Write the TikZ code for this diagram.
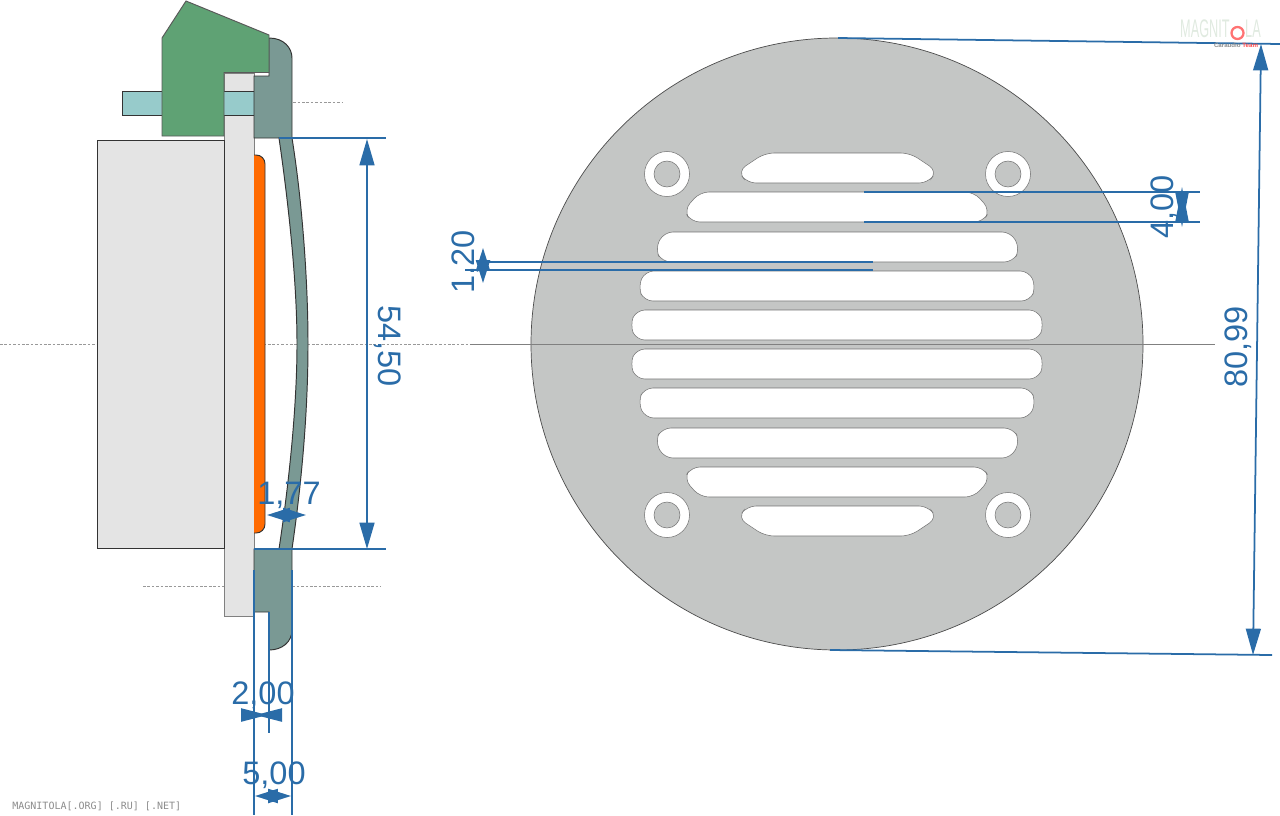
\documentclass[tikz,border=0pt]{standalone}
\usepackage{fontspec}
\setmainfont{Liberation Sans}
\setmonofont{DejaVu Sans Mono}
\usetikzlibrary{arrows.meta}
\definecolor{dimblue}{HTML}{2A6CA8}
\definecolor{flange}{HTML}{7A9994}
\definecolor{terminal}{HTML}{5FA274}
\definecolor{pincol}{HTML}{97CBCB}
\definecolor{platecol}{HTML}{E4E4E4}
\definecolor{gridcol}{HTML}{C4C6C5}
\definecolor{padcol}{HTML}{FF6A00}
\tikzset{
  part/.style     = {draw=black!80, line width=0.55pt},
  slot/.style     = {draw=black!55, line width=0.3pt, fill=white, rounded corners=5pt},
  axis/.style     = {draw=black!40, line width=0.3pt, dash pattern=on 1.5pt off 1pt},
  dimline/.style  = {draw=dimblue, line width=1pt},
  inward/.style   = {dimline, {Triangle[reversed,length=#1,width=7.5pt]}-{Triangle[reversed,length=#1,width=7.5pt]}},
  outward/.style  = {dimline, {Triangle[length=13pt,width=8pt]}-{Triangle[length=13pt,width=8pt]}},
  longdim/.style  = {dimline, {Triangle[length=15pt,width=8.5pt]}-{Triangle[length=15pt,width=8.5pt]}},
  dimtext/.style  = {text=dimblue, font=\fontsize{18.5}{19}\selectfont, inner sep=0pt}
}
\begin{document}
\begin{tikzpicture}[x=0.02cm,y=-0.02cm]
  \useasboundingbox (0,0) rectangle (1280,815);
  % side view
  \draw[axis] (223,102.5) -- (343,102.5);
  \draw[axis] (143,586) -- (381,586);
  \draw[axis] (0,344) -- (570,344);
  \draw[draw=black!50, line width=0.4pt, fill=platecol] (224,73) rectangle (254,616);
  \draw[part, fill=pincol, line width=0.4pt] (122,91.5) rectangle (254,115.5);
  \draw[part, fill=platecol] (97,140) rectangle (224,548);
  \draw[part, fill=padcol, rounded corners=5pt] (254,155) -- (265,155) -- (265,533) -- (254,533);
  \draw[part, fill=flange] (254,76) -- (269,76) -- (269,38) .. controls (284,38) and (292,48) .. (292,58)
    -- (292,138) -- (254,138) -- cycle;
  \draw[part, fill=flange] (279,138) .. controls (288,200) and (297,280) .. (297,344)
    .. controls (297,410) and (288,490) .. (279,549) -- (292,549)
    .. controls (302,480) and (308,410) .. (308,344) .. controls (308,280) and (302,200) .. (292,138) -- cycle;
  \draw[part, fill=flange] (254,549) -- (292,549) -- (292,630) .. controls (292,642) and (282,650) .. (269,650)
    -- (269,612) -- (254,612) -- cycle;
  \draw[part, fill=terminal, draw=black!65] (186,1) -- (269,35) -- (269,72.5) -- (224,72.5) -- (224,136)
    -- (162,136) -- (162,38) -- cycle;
  % front view
  \draw[draw=black!70, line width=0.4pt, fill=gridcol] (837,344) circle [radius=306];
  \foreach \xa/\xb/\ya/\ta/\ba/\ym in {738/937/153/27/9/18, 684/990/192/16/7/18, 655/1020/232/9/7/17, 638/1036/271/7/6/16, 630/1044/310/6/6/15,
    630/1044/349/6/6/15, 638/1036/388/6/7/14, 655/1020/428/7/9/13, 684/990/467/7/16/12, 738/937/506/9/27/12}
    \draw[slot] (\xa+\ta,\ya) -- (\xb-\ta,\ya) -- (\xb,\ya+\ym) -- (\xb-\ba,\ya+30) -- (\xa+\ba,\ya+30) -- (\xa,\ya+\ym) -- cycle;
  \foreach \cx/\cy in {667/174, 1008/174, 667/515, 1008/515} {
    \draw[draw=black!55, line width=0.3pt, fill=white] (\cx,\cy) circle [radius=22.5];
    \draw[draw=black!55, line width=0.3pt, fill=gridcol] (\cx,\cy) circle [radius=13];
  }
  \draw[draw=black!50, line width=0.3pt] (470,344) -- (1215,344);
  % anchors of the dimensions
  \coordinate (h1a) at (279,138);  \coordinate (h1b) at (386,138);
  \coordinate (h2a) at (254,549);  \coordinate (h2b) at (386,549);
  \coordinate (d1a) at (367,139);  \coordinate (d1b) at (367,549);
  \coordinate (t1a) at (838,38);   \coordinate (t1b) at (1280,44);
  \coordinate (t2a) at (830,650);  \coordinate (t2b) at (1272,655);
  \coordinate (d2a) at (1261,44);  \coordinate (d2b) at (1253,655);
  \coordinate (s1a) at (864,192);  \coordinate (s1b) at (1200,192);
  \coordinate (s2a) at (864,222);  \coordinate (s2b) at (1200,222);
  \coordinate (d3a) at (1182,192); \coordinate (d3b) at (1182,222);
  \coordinate (b1a) at (480,262);  \coordinate (b1b) at (873,262);
  \coordinate (b2a) at (465,270);  \coordinate (b2b) at (873,270);
  \coordinate (d4a) at (483,248);  \coordinate (d4b) at (483,283);
  \coordinate (e1a) at (254,570);  \coordinate (e1b) at (254,815);
  \coordinate (e2a) at (292,570);  \coordinate (e2b) at (292,815);
  \coordinate (e3a) at (269,612);  \coordinate (e3b) at (269,733);
  \coordinate (d5a) at (241,715);  \coordinate (d5b) at (282,715);
  \coordinate (d6a) at (255,796);  \coordinate (d6b) at (291,796);
  \coordinate (d7a) at (267,515);  \coordinate (d7b) at (306,515);
  \draw[dimline] (h1a) -- (h1b);
  \draw[dimline] (h2a) -- (h2b);
  \draw[longdim] (d1a) -- (d1b);
  \draw[dimline] (t1a) -- (t1b);
  \draw[dimline] (t2a) -- (t2b);
  \draw[longdim] (d2a) -- (d2b);
  \draw[dimline] (s1a) -- (s1b);
  \draw[dimline] (s2a) -- (s2b);
  \draw[inward=20pt] (d3a) -- (d3b);
  \draw[dimline] (b1a) -- (b1b);
  \draw[dimline] (b2a) -- (b2b);
  \draw[outward] (d4a) -- (d4b);
  \draw[dimline] (e1a) -- (e1b);
  \draw[dimline] (e2a) -- (e2b);
  \draw[dimline] (e3a) -- (e3b);
  \draw[inward=15pt] (d5a) -- (d5b);
  \draw[outward] (d6a) -- (d6b);
  \draw[outward] (d7a) -- (d7b);
  % labels
  \node[dimtext, rotate=-90] (l5450) at (388,346) {54,50};
  \node[dimtext, rotate=90] (l8099) at (1238,347) {80,99};
  \node[dimtext, rotate=90] (l400) at (1164,207) {4,00};
  \node[dimtext, rotate=90] (l120) at (465,262) {1,20};
  \node[dimtext] (l177) at (289,495) {1,77};
  \node[dimtext] (l200) at (263,695) {2,00};
  \node[dimtext] (l500) at (274,775) {5,00};
  % watermark
  \node[text=green!30!black!12, font=\fontsize{14.5}{15}\selectfont, xscale=0.5, anchor=west, inner sep=0pt] (logoa) at (1180,29) {MAGNIT};
  \node[text=green!30!black!12, font=\fontsize{14.5}{15}\selectfont, xscale=0.5, anchor=west, inner sep=0pt] (logob) at (1245,29) {LA};
  \draw[draw=red!55, line width=1.3pt] (1237.5,33) circle [radius=6];
  \node[font=\fontsize{3.5}{4}\selectfont\bfseries, text=black!45, inner sep=0pt] (team) at (1236,45) {Caraudio \textcolor{red!70}{Team}};
  \node[font=\ttfamily\fontsize{5.7}{6}\selectfont, text=black!45, anchor=west, inner sep=0pt] (site) at (12,806) {MAGNITOLA[.ORG] [.RU] [.NET]};
\end{tikzpicture}
\end{document}
